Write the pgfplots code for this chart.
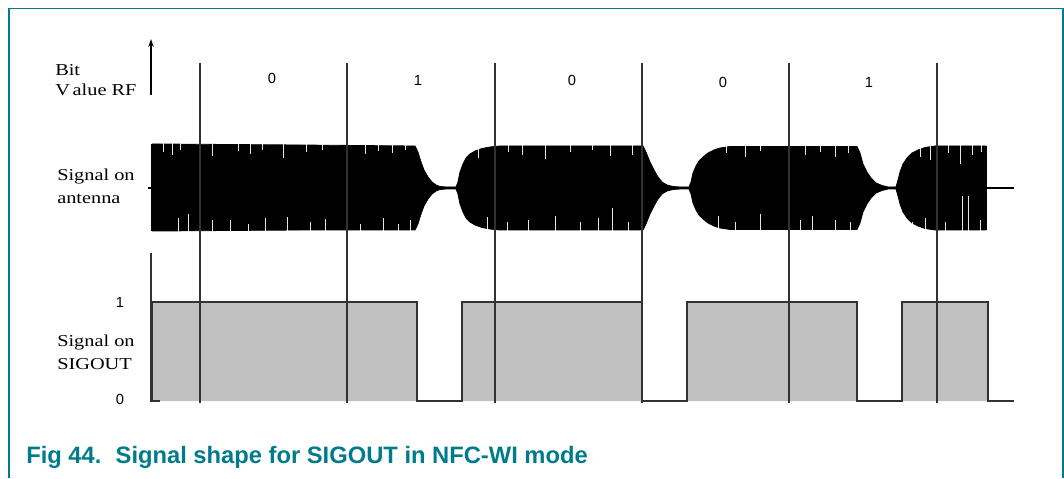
\documentclass[border=0pt]{standalone}
\usepackage{fontspec}
\setmainfont{Liberation Sans}
\newfontfamily\lbl[FakeStretch=1.22]{Liberation Serif}
\usepackage{pgfplots}
\usepackage{pgfplotstable}
\pgfplotsset{compat=1.18}
\usepgfplotslibrary{fillbetween}
\usetikzlibrary{arrows.meta}
\definecolor{nxpteal}{RGB}{0,123,140}
\definecolor{sigfill}{RGB}{192,192,192}
\definecolor{edge}{RGB}{50,50,50}
\definecolor{vline}{RGB}{50,50,50}

% antenna signal envelope (pixel coordinates, y downwards)
\pgfplotstableread{
x    up     lo
152  144    231
160  144    231
300  145    230
415  146    230
418  152    224
421  162    214
424  170    206
428  177    199
432  182    194
436  185    191
440  186.5  189.5
446  187    189
456  187    189
458  182    194
460  172    204
463  164    212
466  158    218
470  154    222
475  151    225
482  148.5  227.5
490  147    229
500  146    230
643  146    230
646  152    224
650  162    214
654  170    206
658  177    199
662  182    194
667  185    191
673  186.5  189.5
680  187    189
689  187    189
691  182    194
693  173    203
696  166    210
699  161    215
703  157    219
708  153    223
714  150    226
720  148    228
730  146.5  229.5
857  146.5  229.5
860  153    223
863  164    212
867  172    204
871  178    198
876  183    193
882  185.5  190.5
888  187    189
896  187    189
898  180    196
900  172    204
903  164    212
907  158    218
912  153    223
918  150    226
925  147.5  228.5
935  146    230
986  146    230
}\antenna

% SIGOUT waveform
\pgfplotstableread{
x    y
152  401
152  302
417  302
417  401
462  401
462  302
642  302
642  401
687  401
687  302
857  302
857  401
902  401
902  302
988  302
988  401
1014 401
}\sigout

\begin{document}
\begin{tikzpicture}
\begin{axis}[
  scale only axis, width=798pt, height=358.5pt,
  xmin=0, xmax=1064, ymin=0, ymax=478, y dir=reverse,
  hide axis, clip=false, unbounded coords=jump,
]
\path (axis cs:0,0) rectangle (axis cs:1064,478);

% frame
\addplot[nxpteal, line width=1.4pt] coordinates {(9,478) (9,8.5) (1063,8.5) (1063,478)};

% baseline for antenna
\addplot[black, line width=0.8pt] coordinates {(148,188) (1014,188)};

% antenna signal
\addplot[black, line width=0.6pt, name path=up] table[x=x, y=up] {\antenna};
\addplot[black, line width=0.6pt, name path=lo] table[x=x, y=lo] {\antenna};
\addplot[black] fill between[of=up and lo];
\addplot[black, line width=0.8pt] coordinates {(152,144) (152,231)};
\addplot[black, line width=0.8pt] coordinates {(986,146) (986,230)};

% carrier texture (white gaps)
\addplot[white, opacity=0.9, line width=0.7pt] coordinates {
(163,143) (163,152) (163,nan)
(172,143) (172,155) (172,nan)
(180,143) (180,150) (180,nan)
(212,143) (212,156) (212,nan)
(238,143) (238,151) (238,nan)
(250,143) (250,154) (250,nan)
(262,143) (262,150) (262,nan)
(283,143) (283,158) (283,nan)
(306,143) (306,152) (306,nan)
(322,143) (322,150) (322,nan)
(365,143) (365,154) (365,nan)
(378,143) (378,151) (378,nan)
(392,143) (392,153) (392,nan)
(405,143) (405,150) (405,nan)
(478,143) (478,158) (478,nan)
(508,143) (508,152) (508,nan)
(522,143) (522,155) (522,nan)
(545,143) (545,159) (545,nan)
(570,143) (570,152) (570,nan)
(592,143) (592,150) (592,nan)
(610,143) (610,156) (610,nan)
(632,143) (632,155) (632,nan)
(726,143) (726,153) (726,nan)
(745,143) (745,157) (745,nan)
(760,143) (760,151) (760,nan)
(805,143) (805,155) (805,nan)
(820,143) (820,152) (820,nan)
(835,143) (835,157) (835,nan)
(848,143) (848,153) (848,nan)
(920,143) (920,157) (920,nan)
(930,143) (930,160) (930,nan)
(948,143) (948,153) (948,nan)
(960,143) (960,164) (960,nan)
(972,143) (972,155) (972,nan)
(981,143) (981,152) (981,nan)
(178,233) (178,218) (178,nan)
(188,233) (188,214) (188,nan)
(212,233) (212,220) (212,nan)
(230,233) (230,220) (230,nan)
(248,233) (248,224) (248,nan)
(265,233) (265,218) (265,nan)
(287,233) (287,217) (287,nan)
(310,233) (310,222) (310,nan)
(325,233) (325,219) (325,nan)
(360,233) (360,224) (360,nan)
(383,233) (383,218) (383,nan)
(398,233) (398,224) (398,nan)
(410,233) (410,220) (410,nan)
(487,233) (487,217) (487,nan)
(507,233) (507,222) (507,nan)
(528,233) (528,220) (528,nan)
(555,233) (555,216) (555,nan)
(580,233) (580,222) (580,nan)
(598,233) (598,218) (598,nan)
(612,233) (612,208) (612,nan)
(628,233) (628,222) (628,nan)
(702,233) (702,220) (702,nan)
(718,233) (718,216) (718,nan)
(735,233) (735,222) (735,nan)
(760,233) (760,214) (760,nan)
(800,233) (800,220) (800,nan)
(812,233) (812,216) (812,nan)
(835,233) (835,220) (835,nan)
(850,233) (850,222) (850,nan)
(912,233) (912,222) (912,nan)
(925,233) (925,218) (925,nan)
(945,233) (945,222) (945,nan)
(962,233) (962,196) (962,nan)
(968,233) (968,196) (968,nan)
(980,233) (980,220) (980,nan)
};

% SIGOUT
\addplot[fill=sigfill, draw=edge, line width=1.1pt] table[x=x, y=y] {\sigout};
\addplot[edge, line width=1.1pt] coordinates {(151,253) (151,401) (160,401)};

% arrow of bit axis
\addplot[black, line width=1.1pt, -{Stealth[length=6pt, width=4pt]}] coordinates {(151,95) (151,39)};

% bit boundaries
\addplot[vline, line width=1.5pt] coordinates {(200,63) (200,403)};
\addplot[vline, line width=1.5pt] coordinates {(347,63) (347,403)};
\addplot[vline, line width=1.5pt] coordinates {(495,63) (495,403)};
\addplot[vline, line width=1.5pt] coordinates {(642,63) (642,403)};
\addplot[vline, line width=1.5pt] coordinates {(789,63) (789,403)};
\addplot[vline, line width=1.5pt] coordinates {(937,63) (937,403)};

% labels
\node[anchor=west, align=left, inner sep=0, font=\lbl\fontsize{12.5}{15}\selectfont] at (axis cs:55,80) {Bit\\V\,alue RF};
\node[anchor=west, align=left, inner sep=0, font=\lbl\fontsize{12.5}{17}\selectfont] at (axis cs:57,186) {Signal on\\antenna};
\node[anchor=west, align=left, inner sep=0, font=\lbl\fontsize{12.5}{17}\selectfont] at (axis cs:57,352) {Signal on\\SIGOUT};

\node[font=\fontsize{11}{12}\selectfont] at (axis cs:120,302) {1};
\node[font=\fontsize{11}{12}\selectfont] at (axis cs:120,399) {0};

\node[font=\fontsize{11}{12}\selectfont] at (axis cs:272,78) {0};
\node[font=\fontsize{11}{12}\selectfont] at (axis cs:418,80) {1};
\node[font=\fontsize{11}{12}\selectfont] at (axis cs:572,80) {0};
\node[font=\fontsize{11}{12}\selectfont] at (axis cs:723,82) {0};
\node[font=\fontsize{11}{12}\selectfont] at (axis cs:869,82) {1};

% caption
\node[anchor=west, inner sep=0, text=nxpteal, font=\bfseries\fontsize{17.8}{20}\selectfont] at (axis cs:26,457) {Fig 44.\hspace{0.6em}Signal shape for SIGOUT in NFC-WI mode};
\end{axis}
\end{tikzpicture}
\end{document}
